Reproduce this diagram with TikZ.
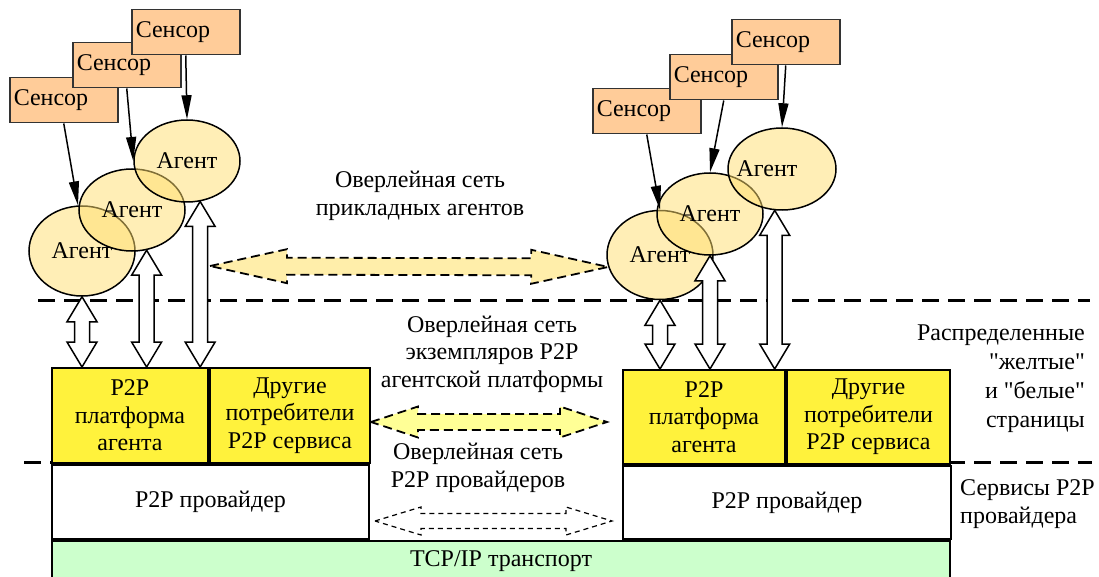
\documentclass[tikz,border=0pt]{standalone}
\usepackage{fontspec}
\setmainfont{Liberation Serif}[Ligatures=TeXOff]
\usetikzlibrary{calc,positioning,arrows.meta,shapes.geometric}
\definecolor{sensorfill}{RGB}{255,204,153}
\definecolor{agentfill}{RGB}{255,222,110}
\definecolor{platfill}{RGB}{255,242,60}
\definecolor{tcpfill}{RGB}{204,255,204}
\definecolor{ovafill}{RGB}{255,238,170}
\definecolor{ovpfill}{RGB}{255,255,150}
\tikzset{
	sensor/.style={
		draw=black!80, line width=1.5pt, fill=sensorfill,
		text width=100pt, align=left, inner xsep=4pt, inner ysep=0pt,
		minimum height=45pt, anchor=north west
	},
	agent/.style={
		draw, ellipse, line width=1.5pt, fill=agentfill,
		fill opacity=0.5, text opacity=1, draw opacity=1,
		minimum width=106pt, minimum height=82pt, inner sep=0pt
	},
	layer/.style={
		draw, line width=2pt, rectangle, inner sep=0pt,
		align=center, anchor=north west
	},
	sensor_arrow/.style={line width=1.5pt, -{Triangle[length=24pt,width=10pt]}},
	block/.style n args={3}{
		to path={
			-- ($(\tikztostart)!#1!(\tikztotarget)!#2!90:(\tikztotarget)$)
			-- ($(\tikztostart)!#1!(\tikztotarget)!#3!90:(\tikztotarget)$)
			-- ($(\tikztotarget)!#1!(\tikztostart)!#3!-90:(\tikztostart)$)
			-- ($(\tikztotarget)!#1!(\tikztostart)!#2!-90:(\tikztostart)$)
			-- (\tikztotarget)
			-- ($(\tikztotarget)!#1!(\tikztostart)!#2!90:(\tikztostart)$)
			-- ($(\tikztotarget)!#1!(\tikztostart)!#3!90:(\tikztostart)$)
			-- ($(\tikztostart)!#1!(\tikztotarget)!#3!-90:(\tikztotarget)$)
			-- ($(\tikztostart)!#1!(\tikztotarget)!#2!-90:(\tikztotarget)$)
			-- cycle
		}
	},
	vblock/.style={block={25pt}{15pt}{7.5pt}, draw, line width=1.5pt, fill=white},
	ov_agents/.style={block={77pt}{17pt}{8.5pt}, draw, line width=1.8pt,
		dash pattern=on 9pt off 5pt, fill=ovafill},
	ov_platform/.style={block={47pt}{15.5pt}{8pt}, draw, line width=1.8pt,
		dash pattern=on 9pt off 5pt, fill=ovpfill},
	ov_provider/.style={block={46pt}{14pt}{7.5pt}, draw, line width=1.2pt,
		dash pattern=on 5pt off 4pt, fill=white},
	separator/.style={line width=3pt, dash pattern=on 17pt off 9pt},
	caption/.style={align=center, inner sep=0pt}
}

\begin{document}
\begin{tikzpicture}[x=1pt, y=-1pt, font=\fontsize{24}{27.5}\selectfont]
	\useasboundingbox (0,0) rectangle (1099,577);
	\draw[separator] (38,300) -- (1090,300);
	\draw[separator] (24,462) -- (52,462);
	\draw[separator] (948,462) -- (1092,462);

	\node[sensor] (S1) at (9,77)   {Сенсор};
	\node[sensor] (S2) at (72,42)  {Сенсор};
	\node[sensor] (S3) at (131,9)  {Сенсор};
	\node[sensor] (S4) at (592,88) {Сенсор};
	\node[sensor] (S5) at (669,54) {Сенсор};
	\node[sensor] (S6) at (731,19) {Сенсор};

	\node[agent, minimum height=90pt] (A1) at (82,251)  {Агент};
	\node[agent] (A2) at (132,210) {Агент};
	\node[agent] (A3) at (187,161) {Агент};
	\node[agent, minimum height=89pt] (A4) at (660,255) {Агент};
	\node[agent] (A5) at (710,214) {Агент};
	\node[agent, minimum width=108pt] (A6) at (782,169) {\hspace*{-30pt}Агент};

	\draw[sensor_arrow] (S1.south) -- (A1.95);
	\draw[sensor_arrow] (S2.south) -- (A3.west);
	\draw[sensor_arrow] (S3.south) -- (A3.north);
	\draw[sensor_arrow] (S4.south) -- (A4.north);
	\draw[sensor_arrow] (S5.south) -- (A5.north);
	\draw[sensor_arrow] (S6.south) -- (A6.north);

	\node[layer, fill=platfill, minimum width=156pt, minimum height=95pt] (P1) at (51,367) {P2P\\платформа\\агента};
	\node[layer, fill=platfill, minimum width=160pt, minimum height=95pt] (P2) at (P1.north east) {Другие\\потребители\\P2P сервиса};
	\node[layer, fill=white, minimum width=317pt, minimum height=74pt] (Pr1) at (P1.south west) {P2P провайдер};
	\node[layer, fill=tcpfill, minimum width=898pt, minimum height=40pt] (TCP) at (Pr1.south west) {TCP/IP транспорт};
	\node[layer, fill=platfill, minimum width=162pt, minimum height=94pt] (P3) at (622,369) {P2P\\платформа\\агента};
	\node[layer, fill=platfill, minimum width=163pt, minimum height=94pt] (P4) at (P3.north east) {Другие\\потребители\\P2P сервиса};
	\node[layer, fill=white, minimum width=328pt, minimum height=73pt] (Pr2) at (P3.south west) {P2P провайдер};

	\coordinate (v1) at (A1.south |- P1.north);
	\coordinate (v2) at (A2.-70 |- P1.north);
	\coordinate (v3) at (A3.-72 |- P1.north);
	\coordinate (v4) at (A4.south |- P3.north);
	\coordinate (v5) at (A5.south |- P3.north);
	\coordinate (v6) at (A6.-100 |- P3.north);
	\draw[vblock] (A1.south) to (v1);
	\draw[vblock] (A2.-70) to (v2);
	\draw[vblock] (A3.-72) to (v3);
	\draw[vblock] (A4.south) to (v4);
	\draw[vblock] (A5.south) to (v5);
	\draw[vblock] (A6.-100) to (v6);

	\coordinate (ovA) at (210,266);
	\coordinate (ovP1) at ([yshift=-6.5pt]P2.east);
	\coordinate (ovP2) at ([xshift=-15pt]ovP1 -| P3.west);
	\coordinate (ovR1) at ([xshift=5pt,yshift=-19pt]Pr1.east);
	\coordinate (ovR2) at ([xshift=-10pt]ovR1 -| Pr2.west);
	\draw[ov_agents] (ovA) to (A4.193);
	\draw[ov_platform] (ovP1) to (ovP2);
	\draw[ov_provider] (ovR1) to (ovR2);

	\node[caption] (tA) at (420,196) {Оверлейная сеть\\прикладных агентов};
	\node[caption] (tP) at (492,354) {Оверлейная сеть\\экземпляров P2P\\агентской платформы};
	\node[caption] (tR) at (478,468) {Оверлейная сеть\\P2P провайдеров};
	\node[caption, align=right, anchor=east, font=\fontsize{24}{29}\selectfont] (tPages) at (1085,379) {Распределенные\\"желтые"\\и "белые"\\страницы};
	\node[caption, align=left, anchor=west] (tSrv) at (960,504) {Сервисы P2P\\провайдера};
\end{tikzpicture}
\end{document}
